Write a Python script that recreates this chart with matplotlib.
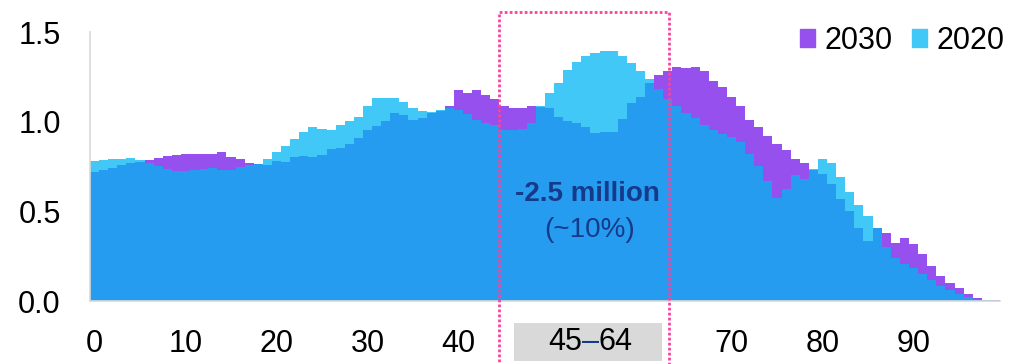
import numpy as np
import matplotlib

matplotlib.use("Agg")
import matplotlib.pyplot as plt
from matplotlib.patches import Patch, Rectangle
import matplotlib.transforms as mtransforms

plt.rcParams["font.family"] = ["Liberation Sans", "DejaVu Sans"]

# Population by single year of age (millions)
ages = np.arange(100)
pop_2020 = [
    0.783, 0.789, 0.792, 0.794, 0.800, 0.789, 0.772, 0.753, 0.735, 0.727,
    0.727, 0.731, 0.735, 0.740, 0.733, 0.731, 0.745, 0.757, 0.765, 0.791,
    0.831, 0.867, 0.906, 0.943, 0.969, 0.958, 0.956, 0.979, 1.003, 1.025,
    1.087, 1.130, 1.130, 1.133, 1.111, 1.079, 1.059, 1.053, 1.064, 1.074,
    1.068, 1.042, 1.008, 0.995, 0.982, 0.956, 0.951, 0.958, 0.995, 1.087,
    1.158, 1.217, 1.289, 1.334, 1.366, 1.381, 1.394, 1.394, 1.364, 1.325,
    1.284, 1.237, 1.180, 1.126, 1.088, 1.049, 1.018, 0.980, 0.954, 0.934,
    0.915, 0.887, 0.818, 0.753, 0.668, 0.574, 0.625, 0.701, 0.679, 0.735,
    0.791, 0.768, 0.694, 0.606, 0.537, 0.474, 0.405, 0.304, 0.241, 0.208,
    0.183, 0.148, 0.115, 0.083, 0.059, 0.038, 0.021, 0.008, 0.003, 0.001,
]
pop_2030 = [
    0.722, 0.733, 0.744, 0.757, 0.768, 0.778, 0.785, 0.796, 0.807, 0.815,
    0.818, 0.822, 0.822, 0.822, 0.831, 0.802, 0.791, 0.768, 0.762, 0.757,
    0.779, 0.774, 0.802, 0.807, 0.803, 0.817, 0.845, 0.856, 0.878, 0.910,
    0.956, 0.975, 1.005, 1.046, 1.035, 1.012, 1.020, 1.047, 1.060, 1.085,
    1.178, 1.158, 1.178, 1.150, 1.126, 1.088, 1.079, 1.075, 1.090, 1.082,
    1.079, 1.025, 1.005, 0.992, 0.968, 0.938, 0.943, 0.943, 1.014, 1.105,
    1.139, 1.215, 1.260, 1.282, 1.304, 1.297, 1.304, 1.280, 1.225, 1.191,
    1.135, 1.087, 1.008, 0.968, 0.923, 0.876, 0.841, 0.792, 0.770, 0.733,
    0.707, 0.655, 0.569, 0.503, 0.407, 0.334, 0.409, 0.379, 0.325, 0.351,
    0.317, 0.261, 0.194, 0.142, 0.102, 0.070, 0.040, 0.016, 0.005, 0.003,
]
tick_ages = [0, 10, 20, 30, 40, 70, 80, 90]
band_start, band_end = 45, 64
band_note = "-2.5 million"
band_share = "(~10%)"

c2030 = "#9550EE"
c2020 = "#41C8F6"
c_both = "#259CF0"
c_note = "#163A8A"
c_band = "#F7449E"

edges = np.arange(len(ages) + 1)
overlap = np.minimum(pop_2020, pop_2030)

fig = plt.figure(figsize=(10.1, 3.64), dpi=100)
ax = fig.add_axes([0.0891, 0.173, 0.901, 0.739])

ax.stairs(pop_2020, edges, fill=True, color=c2020, lw=0)
ax.stairs(pop_2030, edges, fill=True, color=c2030, lw=0)
ax.stairs(overlap, edges, fill=True, color=c_both, lw=0)

ax.set_xlim(0, 100)
ax.set_ylim(0, 1.5)
ax.set_yticks([0.0, 0.5, 1.0, 1.5])
ax.set_yticklabels([f"{v:.1f}" for v in [0.0, 0.5, 1.0, 1.5]])
ax.set_xticks([a + 0.5 for a in tick_ages])
ax.set_xticklabels([str(a) for a in tick_ages])
ax.tick_params(length=0, labelsize=22)
ax.tick_params(axis="y", pad=21)
ax.tick_params(axis="x", pad=20)

for side in ("top", "right"):
    ax.spines[side].set_visible(False)
for side in ("left", "bottom"):
    ax.spines[side].set_color("#D9D9D9")
    ax.spines[side].set_linewidth(1.2)

trans = mtransforms.blended_transform_factory(ax.transData, ax.transAxes)

# working-age band outline
ax.add_patch(Rectangle((band_start, -0.5), 63.6 - band_start, 1.574,
                       transform=trans, fill=False, ec=c_band, lw=2,
                       ls=(0, (1, 0.8)), clip_on=False, zorder=5))

# band label under the axis: "45", a coloured dash, "64"
mid = (band_start + band_end + 1) / 2
half_dash = 6.1  # points, half an en dash at 22pt
ax.add_patch(Rectangle((46.6, -0.223), 16.3, 0.141, transform=trans,
                       fc="#D9D9D9", ec="none", clip_on=False))
label_kw = dict(xycoords=trans, textcoords="offset points", va="center",
                fontsize=22, annotation_clip=False)
ax.annotate(str(band_start), (mid, -0.152), xytext=(-half_dash, 0),
            ha="right", color="black", **label_kw)
ax.annotate("–", (mid, -0.152), xytext=(0, 0), ha="center", color=c_note,
            **label_kw)
ax.annotate(str(band_end), (mid, -0.152), xytext=(half_dash, 0),
            ha="left", color="black", **label_kw)

ax.text(54.7, 0.598, band_note, ha="center", va="center", fontsize=20,
        fontweight="bold", color=c_note, zorder=6)
ax.text(54.9, 0.394, band_share, ha="center", va="center", fontsize=20,
        color=c_note, zorder=6)

handles = [Patch(color=c2030, label="2030"), Patch(color=c2020, label="2020")]
ax.legend(handles=handles, ncol=2, frameon=False, fontsize=22,
          loc="center right", bbox_to_anchor=(1.005, 0.967),
          borderaxespad=0, borderpad=0, handlelength=0.5, handleheight=0.5,
          handletextpad=0.3, columnspacing=0.65)

fig.savefig("out.png", dpi=100)
